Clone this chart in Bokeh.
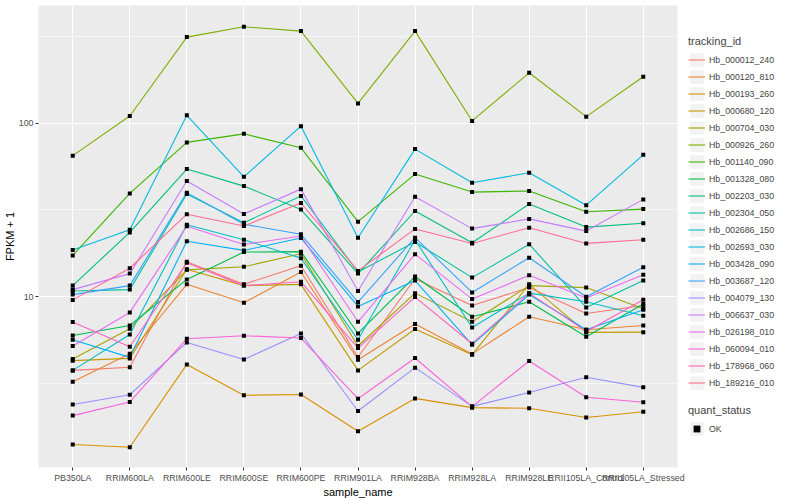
from bokeh.plotting import figure
from bokeh.layouts import row
from bokeh.models import FactorRange, Range1d, FixedTicker, Legend, LegendItem, NumeralTickFormatter
from bokeh.embed import file_html
from bokeh.resources import INLINE

samples = ["PB350LA", "RRIM600LA", "RRIM600LE", "RRIM600SE", "RRIM600PE", "RRIM901LA",
           "RRIM928BA", "RRIM928LA", "RRIM928LE", "RRII105LA_Control", "RRII105LA_Stressed"]

tracking_ids = ["Hb_000012_240", "Hb_000120_810", "Hb_000193_260", "Hb_000680_120", "Hb_000704_030",
                "Hb_000926_260", "Hb_001140_090", "Hb_001328_080", "Hb_002203_030", "Hb_002304_050",
                "Hb_002686_150", "Hb_002693_030", "Hb_003428_090", "Hb_003687_120", "Hb_004079_130",
                "Hb_006637_030", "Hb_026198_010", "Hb_060094_010", "Hb_178968_060", "Hb_189216_010"]

palette = ["#F8766D", "#EA8331", "#D89000", "#C09B00", "#A3A500", "#7CAE00", "#39B600", "#00BB4E",
           "#00BF7D", "#00C1A3", "#00BFC4", "#00BAE0", "#00B0F6", "#35A2FF", "#9590FF", "#C77CFF",
           "#E76BF3", "#FA62DB", "#FF62BC", "#FF6C91"]

# FPKM + 1 per sample, one list per tracking_id
hb_000012_240 = [3.77, 3.93, 15.9, 11.8, 15.1, 4.50, 12.7, 8.91, 11.3, 8.02, 8.91]
hb_000120_810 = [3.24, 4.70, 11.8, 9.24, 13.9, 4.34, 6.97, 4.69, 7.67, 6.46, 6.84]
hb_000193_260 = [1.41, 1.36, 4.08, 2.71, 2.74, 1.68, 2.60, 2.30, 2.28, 2.02, 2.18]
hb_000680_120 = [4.29, 4.42, 14.4, 11.6, 11.8, 3.77, 6.52, 4.64, 11.8, 6.24, 6.26]
hb_000704_030 = [4.38, 6.55, 14.3, 14.9, 17.7, 5.21, 10.5, 7.18, 11.6, 11.3, 8.53]
hb_000926_260 = [65.0, 110.0, 313.0, 359.0, 339.0, 130.0, 339.0, 103.0, 195.0, 109.0, 185.0]
hb_001140_090 = [17.3, 39.4, 77.5, 86.8, 72.1, 27.1, 50.9, 40.1, 40.7, 30.9, 32.0]
hb_001328_080 = [5.99, 6.84, 12.6, 18.1, 18.2, 6.15, 13.1, 7.67, 9.36, 5.89, 9.08]
hb_002203_030 = [11.6, 23.5, 54.4, 43.4, 31.8, 13.6, 31.2, 20.5, 34.2, 25.2, 26.5]
hb_002304_050 = [10.8, 11.0, 39.1, 26.7, 38.1, 13.9, 20.7, 12.9, 20.1, 8.68, 12.4]
hb_002686_150 = [3.77, 6.07, 26.0, 21.3, 16.7, 5.66, 21.3, 6.66, 10.5, 9.36, 7.78]
hb_002693_030 = [18.6, 24.3, 111.0, 49.1, 96.1, 21.9, 70.9, 45.4, 51.8, 33.7, 65.7]
hb_003428_090 = [5.66, 4.48, 20.9, 18.5, 21.8, 8.80, 12.4, 5.30, 10.3, 6.46, 8.42]
hb_003687_120 = [10.3, 11.6, 39.8, 26.2, 22.9, 9.32, 21.9, 10.6, 16.8, 10.0, 14.8]
hb_004079_130 = [2.40, 2.73, 5.46, 4.36, 6.15, 2.20, 3.91, 2.34, 2.81, 3.44, 3.01]
hb_006637_030 = [11.0, 13.6, 46.4, 30.0, 41.7, 10.8, 37.7, 24.7, 28.1, 23.9, 36.4]
hb_026198_010 = [5.21, 8.13, 25.5, 20.0, 22.4, 7.18, 17.6, 9.70, 13.3, 9.83, 13.4]
hb_060094_010 = [2.07, 2.48, 5.74, 5.97, 5.79, 2.59, 4.44, 2.33, 4.27, 2.64, 2.47]
hb_178968_060 = [7.15, 5.16, 15.7, 11.6, 12.2, 5.07, 9.96, 5.37, 10.5, 6.32, 9.61]
hb_189216_010 = [9.6, 14.6, 29.9, 25.6, 34.7, 14.1, 24.6, 20.3, 25.0, 20.3, 21.3]

series = [hb_000012_240, hb_000120_810, hb_000193_260, hb_000680_120, hb_000704_030,
          hb_000926_260, hb_001140_090, hb_001328_080, hb_002203_030, hb_002304_050,
          hb_002686_150, hb_002693_030, hb_003428_090, hb_003687_120, hb_004079_130,
          hb_006637_030, hb_026198_010, hb_060094_010, hb_178968_060, hb_189216_010]

y_ticks = [10, 100]
y_minor = [3.1623, 31.623, 316.23]
quant_status = ["OK"]

FONT = "Liberation Sans"
H = 500

p = figure(
    x_range=FactorRange(*samples, range_padding=0.1, range_padding_units="absolute"),
    y_range=Range1d(1.04, 476), y_axis_type="log",
    width=688, height=H,
    min_border_left=32, min_border_right=11, min_border_top=5, min_border_bottom=32,
    output_backend="svg", toolbar_location=None,
    background_fill_color="#EBEBEB", border_fill_color="white", outline_line_color=None,
)

p.xgrid.grid_line_color = "white"
p.xgrid.grid_line_width = 1.1
p.ygrid.grid_line_color = "white"
p.ygrid.grid_line_width = 1.1
p.ygrid.minor_grid_line_color = "white"
p.ygrid.minor_grid_line_width = 0.55

p.yaxis.ticker = FixedTicker(ticks=y_ticks, minor_ticks=y_minor)
p.yaxis.formatter = NumeralTickFormatter(format="0")

for ax in (p.xaxis[0], p.yaxis[0]):
    ax.axis_line_color = None
    ax.major_tick_line_color = "#333333"
    ax.major_tick_out = 3
    ax.major_tick_in = 0
    ax.minor_tick_line_color = None
    ax.major_label_text_color = "#4D4D4D"
    ax.major_label_text_font = FONT
    ax.major_label_text_font_size = "8.8px"
    ax.axis_label_text_font = FONT
    ax.axis_label_text_font_size = "11px"
    ax.axis_label_text_font_style = "normal"
    ax.axis_label_text_color = "black"
    ax.axis_label_standoff = 0

p.xaxis.major_label_standoff = 2
p.yaxis.major_label_standoff = 1
p.xaxis.axis_label = "sample_name"
p.yaxis.axis_label = "FPKM + 1"

for vals, col in zip(series, palette):
    p.line(x=samples, y=vals, line_color=col, line_width=1.1)

xs, ys = [], []
for vals in series:
    xs.extend(samples)
    ys.extend(vals)
p.scatter(x=xs, y=ys, marker="square", size=4, fill_color="black", line_color=None)

# legend panel (its frame is aligned with the main frame by the row layout)
lf = figure(width=96, height=H, x_range=Range1d(0, 1), y_range=Range1d(0, 1),
            x_axis_location=None, y_axis_location=None, min_border=0,
            output_backend="svg", toolbar_location=None,
            background_fill_color="white", border_fill_color="white", outline_line_color=None)
lf.grid.visible = False

# glyphs kept outside the visible range: only their legend keys show
gray = lf.quad(left=[5], right=[6], top=[6], bottom=[5], fill_color="#F2F2F2", line_color=None)
items = []
for name, col in zip(tracking_ids, palette):
    r = lf.line(x=[5, 6], y=[5, 6], line_color=col, line_width=1.1)
    items.append(LegendItem(label=name, renderers=[gray, r]))
pt = lf.scatter(x=[5], y=[5], marker="square", size=4, fill_color="black", line_color=None)


def style_legend(lg):
    lg.title_text_font = FONT
    lg.title_text_font_size = "11px"
    lg.title_text_font_style = "normal"
    lg.title_standoff = 4
    lg.label_text_font = FONT
    lg.label_text_font_size = "8.8px"
    lg.glyph_width = 17
    lg.glyph_height = 17
    lg.label_height = 17
    lg.label_standoff = 4
    lg.spacing = 0
    lg.padding = 0
    lg.margin = 0
    lg.border_line_color = None
    lg.background_fill_alpha = 0


leg1 = Legend(items=items, title="tracking_id", location=(0, 76))
style_legend(leg1)
lf.add_layout(leg1, "center")

leg2 = Legend(items=[LegendItem(label=quant_status[0], renderers=[gray, pt])],
              title="quant_status", location=(0, 30))
style_legend(leg2)
lf.add_layout(leg2, "center")

layout = row(p, lf)
open("out.html", "w").write(file_html(layout, INLINE))
